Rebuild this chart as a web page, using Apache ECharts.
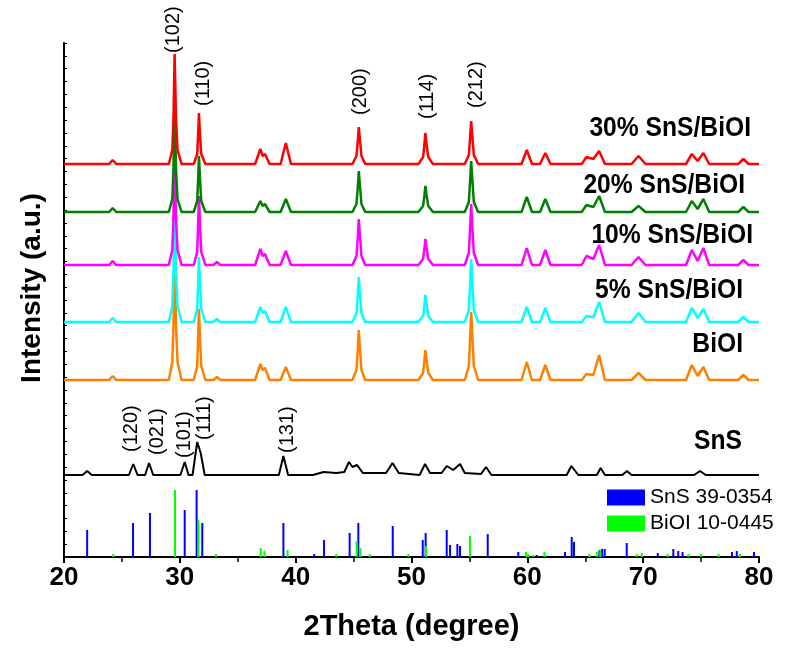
<!DOCTYPE html>
<html>
<head>
<meta charset="utf-8">
<title>XRD SnS/BiOI</title>
<script src="https://cdn.jsdelivr.net/npm/echarts/dist/echarts.min.js"></script>
<style>
  html, body { margin: 0; padding: 0; background: #fff; }
  #main { width: 791px; height: 648px; }
</style>
</head>
<body>
<div id="main"></div>
<script>
// 2Theta / intensity points, intensity above each pattern's own baseline
const red30 = [[20,0],[23.9,0],[24.2,4],[24.5,0],
  [29.05,0],[29.35,14],[29.45,45],[29.55,110],[29.67,45],[29.8,14],[30.15,0],
  [31.2,0],[31.5,10],[31.58,30],[31.65,51],[31.74,30],[31.85,10],[32.2,0],
  [36.5,0],[36.95,15],[37.15,8],[37.35,10],[37.75,0],
  [38.7,0],[39.15,21],[39.6,0],
  [44.9,0],[45.25,8],[45.37,24],[45.45,37],[45.55,24],[45.68,8],[46.0,0],
  [50.6,0],[51.0,7],[51.12,20],[51.2,31],[51.3,20],[51.45,7],[51.85,0],
  [54.6,0],[54.95,9],[55.07,28],[55.15,43],[55.25,28],[55.38,9],[55.75,0],
  [59.5,0],[59.95,14],[60.4,0],
  [61.1,0],[61.55,11],[62.0,0],
  [64.7,0],[65.1,7],[65.7,5],[66.2,13],[66.7,0],
  [69.0,0],[69.6,8],[70.2,0],
  [73.7,0],[74.2,10],[74.7,3],[75.2,11],[75.7,0],
  [78.2,0],[78.65,5],[79.1,0],[80,0]]
const green20 = [[20,0],[23.9,0],[24.2,4],[24.5,0],
  [29.05,0],[29.35,13],[29.45,43],[29.55,106],[29.67,43],[29.8,13],[30.15,0],
  [31.2,0],[31.5,11],[31.58,33],[31.65,56],[31.74,33],[31.85,11],[32.2,0],
  [36.5,0],[36.95,11],[37.15,6],[37.35,8],[37.75,0],
  [38.7,0],[39.15,13],[39.6,0],
  [44.9,0],[45.25,8],[45.37,26],[45.45,41],[45.55,26],[45.68,8],[46.0,0],
  [50.6,0],[51.0,6],[51.12,17],[51.2,26],[51.3,17],[51.45,6],[51.85,0],
  [54.6,0],[54.95,10],[55.07,33],[55.15,51],[55.25,33],[55.38,10],[55.75,0],
  [59.5,0],[59.95,15],[60.4,0],
  [61.1,0],[61.55,13],[62.0,0],
  [64.7,0],[65.1,7],[65.7,5],[66.2,16],[66.7,0],
  [69.0,0],[69.6,6],[70.2,0],
  [73.7,0],[74.2,11],[74.7,3],[75.2,13],[75.7,0],
  [78.2,0],[78.65,5],[79.1,0],[80,0]]
const magenta10 = [[20,0],[23.9,0],[24.2,4],[24.5,0],
  [29.05,0],[29.35,15],[29.45,47],[29.55,116],[29.67,47],[29.8,15],[30.15,0],
  [31.2,0],[31.5,13],[31.58,41],[31.65,69],[31.74,41],[31.85,13],[32.2,0],
  [32.9,0],[33.2,3],[33.5,0],
  [36.5,0],[36.95,16],[37.15,9],[37.35,11],[37.75,0],
  [38.7,0],[39.15,14],[39.6,0],
  [44.9,0],[45.25,9],[45.37,29],[45.45,46],[45.55,29],[45.68,9],[46.0,0],
  [50.6,0],[51.0,6],[51.12,17],[51.2,26],[51.3,17],[51.45,6],[51.85,0],
  [54.6,0],[54.95,12],[55.07,39],[55.15,61],[55.25,39],[55.38,12],[55.75,0],
  [59.5,0],[59.95,17],[60.4,0],
  [61.1,0],[61.55,15],[62.0,0],
  [64.7,0],[65.1,9],[65.7,6],[66.2,20],[66.7,0],
  [69.0,0],[69.6,8],[70.2,0],
  [73.7,0],[74.2,15],[74.7,4],[75.2,17],[75.7,0],
  [78.2,0],[78.65,5],[79.1,0],[80,0]]
const cyan5 = [[20,0],[23.9,0],[24.2,4],[24.5,0],
  [29.05,0],[29.35,16],[29.45,49],[29.55,120],[29.67,49],[29.8,16],[30.15,0],
  [31.2,0],[31.5,13],[31.58,39],[31.65,65],[31.74,39],[31.85,13],[32.2,0],
  [32.9,0],[33.2,3],[33.5,0],
  [36.5,0],[36.95,15],[37.15,9],[37.35,11],[37.75,0],
  [38.7,0],[39.15,15],[39.6,0],
  [44.9,0],[45.25,9],[45.37,28],[45.45,45],[45.55,28],[45.68,9],[46.0,0],
  [50.6,0],[51.0,6],[51.12,18],[51.2,27],[51.3,18],[51.45,6],[51.85,0],
  [54.6,0],[54.95,12],[55.07,40],[55.15,63],[55.25,40],[55.38,12],[55.75,0],
  [59.5,0],[59.95,15],[60.4,0],
  [61.1,0],[61.55,14],[62.0,0],
  [64.7,0],[65.1,6],[65.7,5],[66.2,20],[66.7,0],
  [69.0,0],[69.6,9],[70.2,0],
  [73.7,0],[74.2,14],[74.7,4],[75.2,13],[75.7,0],
  [78.2,0],[78.65,5],[79.1,0],[80,0]]
const orangeBiOI = [[20,0],[23.9,0],[24.2,4],[24.5,0],
  [29.05,0],[29.35,18],[29.45,54],[29.55,132],[29.67,54],[29.8,18],[30.15,0],
  [31.2,0],[31.5,14],[31.58,43],[31.65,71],[31.74,43],[31.85,14],[32.2,0],
  [32.9,0],[33.2,3],[33.5,0],
  [36.5,0],[36.95,16],[37.15,10],[37.35,12],[37.75,0],
  [38.7,0],[39.15,13],[39.6,0],
  [44.9,0],[45.25,10],[45.37,32],[45.45,50],[45.55,32],[45.68,10],[46.0,0],
  [50.6,0],[51.0,7],[51.12,20],[51.2,30],[51.3,20],[51.45,7],[51.85,0],
  [54.6,0],[54.95,14],[55.07,44],[55.15,68],[55.25,44],[55.38,14],[55.75,0],
  [59.5,0],[59.95,18],[60.4,0],
  [61.1,0],[61.55,15],[62.0,0],
  [64.7,0],[65.1,6],[65.7,5],[66.2,25],[66.7,0],
  [69.0,0],[69.6,7],[70.2,0],
  [73.7,0],[74.2,15],[74.7,4],[75.2,13],[75.7,0],
  [78.2,0],[78.65,5],[79.1,0],[80,0]]
const blackSnS = [[20,0],[21.6,0],[22.0,4],[22.4,0],
  [25.6,0],[25.98,11],[26.35,0],
  [27.0,0],[27.34,12],[27.7,0],
  [30.05,0],[30.42,13],[30.75,0],
  [31.1,0],[31.5,33],[31.8,22],[32.15,0],
  [38.55,0],[38.94,19],[39.35,0],
  [41.5,0],[42.4,3],[43.5,2],
  [44.2,3],[44.6,13],[44.9,8],[45.3,10],[45.8,2],
  [47.8,2],[48.36,12],[48.9,2],
  [50.7,0],[51.17,11],[51.6,2],
  [52.6,2],[53.04,9],[53.6,5],[54.19,11],[54.6,2],
  [56.0,1],[56.43,8],[56.9,0],
  [63.4,0],[63.8,9],[63.97,11],[64.4,0],
  [66.0,0],[66.33,7],[66.7,0],
  [68.2,0],[68.6,4],[69.0,0],
  [74.4,0],[74.9,4],[75.4,0],[80,0]]

// baseline of each stacked pattern on the intensity axis
const patternNames = ["30% SnS/BiOI", "20% SnS/BiOI", "10% SnS/BiOI", "5% SnS/BiOI", "BiOI", "SnS"]
const patternData = [red30, green20, magenta10, cyan5, orangeBiOI, blackSnS]
const patternOffsets = [393, 345, 292, 235, 177, 82]
const patternColors = ["#ff0000", "#008000", "#ff00ff", "#00ffff", "#ff8000", "#000000"]

// reference cards (2Theta, relative intensity)
const snsCard = [[22.0,27],[25.96,34],[27.42,44],[30.42,47],[31.45,67],[31.94,34],[38.94,34],[41.6,3],[42.45,17],
  [44.66,24],[45.41,34],[48.38,31],[50.97,17],[51.22,24],[53.04,27],[53.33,12],[53.96,13],[54.19,11],[56.58,23],
  [59.22,5],[60.81,2],[63.25,5],[63.83,20],[64.03,15],[66.22,7],[66.45,8],[66.68,8],[68.58,14],[71.26,4],
  [72.6,8],[73.03,6],[73.4,5],[77.67,5],[78.08,6],[79.57,5]]
const bioiCard = [[24.26,3],[29.58,67],[31.6,37],[33.12,3],[36.98,9],[37.3,6],[39.3,7],[43.5,3],[45.27,16],
  [45.58,9],[46.4,3],[49.73,3],[51.25,11],[55.05,21],[59.88,5],[60.08,3],[60.52,2],[61.47,5],[65.35,3],
  [65.99,5],[66.3,7],[69.44,3],[69.88,4],[72.1,3],[73.9,3],[75.0,3],[76.5,3],[78.36,3]]
const cardNames = ["SnS 39-0354", "BiOI 10-0445"]

// Miller indices
const bioiPlanes = ["(102)", "(110)", "(200)", "(114)", "(212)"]
const snsPlanes = ["(120)", "(021)", "(101)", "(111)", "(131)"]

const FONT = "'Liberation Sans', Arial, Helvetica, sans-serif"

const chart = echarts.init(document.getElementById("main"), null, { renderer: "canvas" })

function stickItem(color) {
    return function (params, api) {
        const base = api.coord([api.value(0), 0])
        const top = api.coord([api.value(0), api.value(1)])
        return {
            type: "rect",
            shape: { x: base[0] - 1, y: top[1], width: 2, height: base[1] - top[1] },
            style: { fill: color },
        }
    }
}

// draw order: SnS first, 30% last (on top)
const lineSeries = []
for (let i = patternData.length - 1; i >= 0; i--) {
    const off = patternOffsets[i]
    lineSeries.push({
        type: "line",
        name: patternNames[i],
        data: patternData[i].map(p => [p[0], p[1] + off]),
        showSymbol: false,
        symbol: "none",
        lineStyle: { color: patternColors[i], width: i === 5 ? 2 : 2.5 },
        z: 3,
    })
}

// hkl label layout: [x px, bottom y px]
const bioiPlanePos = [[173, 53], [203, 106], [360, 115], [427, 119], [476, 108]]
const snsPlanePos = [[131, 452], [157, 455], [184, 458], [204, 440], [287, 453]]
// sample name layout: [right x px, middle y px]
const namePos = [[751, 128], [745, 185], [753, 235], [743, 290], [743, 344], [742, 441]]

const graphics = []
bioiPlanes.concat(snsPlanes).forEach((t, i) => {
    const pos = i < 5 ? bioiPlanePos[i] : snsPlanePos[i - 5]
    graphics.push({
        type: "text",
        x: pos[0],
        y: pos[1],
        rotation: Math.PI / 2,
        style: { text: t, fontSize: 20, fontFamily: FONT, fill: "#000", textAlign: "left", textVerticalAlign: "middle" },
    })
})
patternNames.forEach((t, i) => {
    graphics.push({
        type: "text",
        x: namePos[i][0],
        y: namePos[i][1],
        scaleX: 0.88,
        style: { text: t, fontSize: 28, fontWeight: "bold", fontFamily: FONT, fill: "#000", textAlign: "right", textVerticalAlign: "middle" },
    })
})

const option = {
    animation: false,
    backgroundColor: "#fff",
    grid: { left: 64, right: 32, top: 43, bottom: 91 },
    legend: {
        data: [{ name: cardNames[0], icon: "rect" }, { name: cardNames[1], icon: "rect" }],
        orient: "vertical",
        left: 602,
        top: 482,
        itemWidth: 38,
        itemHeight: 16,
        itemGap: 5,
        selectedMode: false,
        textStyle: { fontSize: 21, fontFamily: FONT, color: "#000" },
    },
    xAxis: {
        type: "value",
        min: 20,
        max: 80,
        interval: 10,
        name: "2Theta (degree)",
        nameLocation: "middle",
        nameGap: 55,
        nameTextStyle: { fontSize: 29, fontWeight: "bold", fontFamily: FONT, color: "#000" },
        axisLine: { lineStyle: { color: "#000", width: 2 } },
        axisTick: { length: 6, lineStyle: { color: "#000", width: 2 } },
        minorTick: { show: true, splitNumber: 2, length: 5, lineStyle: { color: "#000", width: 1.5 } },
        splitLine: { show: false },
        axisLabel: { fontSize: 26, fontWeight: "bold", fontFamily: FONT, color: "#000", margin: 8 },
    },
    yAxis: {
        type: "value",
        min: 0,
        max: 514,
        interval: 12.85,
        name: "Intensity (a.u.)",
        nameLocation: "middle",
        nameGap: 18,
        nameTextStyle: { fontSize: 28, fontWeight: "bold", fontFamily: FONT, color: "#000", padding: [0, 0, 0, 24] },
        axisLine: { show: true, lineStyle: { color: "#000", width: 2 } },
        axisTick: { inside: true, length: 3, lineStyle: { color: "#000", width: 1 } },
        axisLabel: { show: false },
        splitLine: { show: false },
    },
    graphic: { elements: graphics },
    series: [
        {
            type: "custom",
            name: cardNames[0],
            data: snsCard,
            encode: { x: 0, y: 1 },
            itemStyle: { color: "#0000ff" },
            renderItem: stickItem("#0000ff"),
            z: 2,
        },
        {
            type: "custom",
            name: cardNames[1],
            data: bioiCard,
            encode: { x: 0, y: 1 },
            itemStyle: { color: "#00ff00" },
            renderItem: stickItem("#00ff00"),
            z: 2,
        },
    ].concat(lineSeries),
}

chart.setOption(option)
</script>
</body>
</html>
